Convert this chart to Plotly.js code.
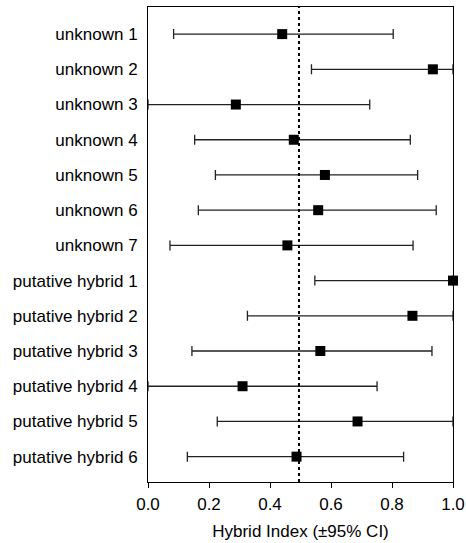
<!DOCTYPE html>
<html>
<head>
<meta charset="utf-8">
<script src="https://cdn.plot.ly/plotly-3.0.1.min.js"></script>
<style>html,body{margin:0;padding:0;background:#fff;}#chart{width:466px;height:543px;}</style>
</head>
<body>
<div id="chart"></div>
<script>
const categories = ["unknown 1","unknown 2","unknown 3","unknown 4","unknown 5","unknown 6","unknown 7",
  "putative hybrid 1","putative hybrid 2","putative hybrid 3","putative hybrid 4","putative hybrid 5","putative hybrid 6"];
const hybridIndex = [0.440,0.934,0.288,0.478,0.580,0.558,0.457,1.000,0.867,0.565,0.310,0.687,0.487];
const ciLower =     [0.084,0.536,0.000,0.153,0.221,0.165,0.072,0.547,0.326,0.144,0.000,0.227,0.129];
const ciUpper =     [0.804,1.000,0.727,0.860,0.884,0.945,0.869,1.000,1.000,0.931,0.751,1.000,0.838];
const referenceLine = 0.495;
const xTicks = [0,0.2,0.4,0.6,0.8,1.0];

const trace = {
  type: 'scatter', mode: 'markers',
  x: hybridIndex, y: categories,
  marker: {symbol: 'square', size: 10, color: '#000'},
  error_x: {
    type: 'data', symmetric: false,
    array: hybridIndex.map((v,i)=>ciUpper[i]-v),
    arrayminus: hybridIndex.map((v,i)=>v-ciLower[i]),
    color: '#222', thickness: 1.3, width: 5
  },
  cliponaxis: false,
  hoverinfo: 'skip'
};

const font = {family: '"Liberation Sans", Arial, sans-serif', size: 17, color: '#000'};
const layout = {
  width: 466, height: 543,
  margin: {l: 148, r: 13, t: 7, b: 61},
  paper_bgcolor: '#fff', plot_bgcolor: '#fff',
  showlegend: false,
  font: font,
  xaxis: {
    range: [0, 1], tickvals: xTicks, ticktext: xTicks.map(v=>v.toFixed(1)),
    ticks: 'outside', ticklen: 5, tickcolor: '#000', tickwidth: 1,
    ticklabelstandoff: 2,
    showline: true, linecolor: '#000', linewidth: 1, mirror: true,
    showgrid: false, zeroline: false,
    tickfont: {size: 17},
    title: {text: 'Hybrid Index (±95% CI)', font: {size: 17}, standoff: 11}
  },
  yaxis: {
    type: 'category', categoryarray: categories, categoryorder: 'array',
    range: [12.72, -0.77],
    ticks: 'outside', ticklen: 6, tickcolor: 'rgba(0,0,0,0)',
    showline: true, linecolor: '#000', linewidth: 1, mirror: true,
    showgrid: false, zeroline: false,
    tickfont: {size: 17}
  },
  shapes: [{
    type: 'line', xref: 'x', yref: 'paper',
    x0: referenceLine, x1: referenceLine, y0: 0, y1: 1,
    line: {color: '#000', width: 2, dash: 'dot'}
  }]
};
Plotly.newPlot('chart', [trace], layout, {displayModeBar: false, staticPlot: true});
</script>
</body>
</html>
